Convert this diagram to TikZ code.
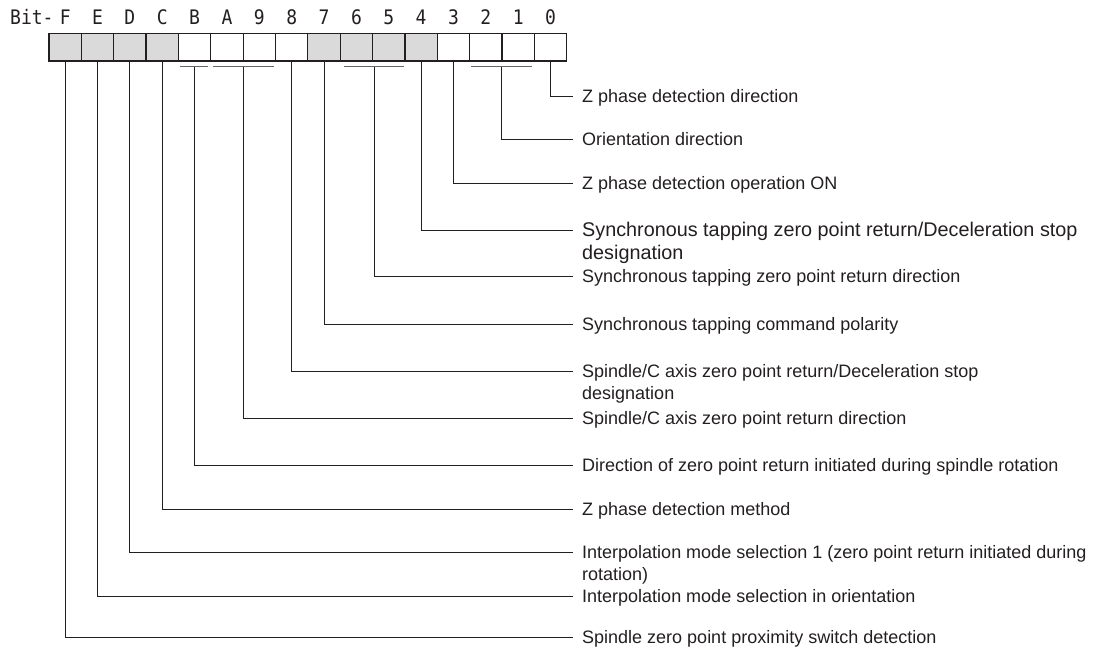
\documentclass[tikz,border=0pt]{standalone}
\usepackage{fontspec}
\setmainfont{Liberation Sans}
\newfontfamily\bitfont[FakeStretch=0.9]{DejaVu Sans Mono}
\usetikzlibrary{positioning}
\definecolor{cellgray}{RGB}{218,218,218}
\definecolor{ink}{RGB}{35,31,32}

\begin{document}
\begin{tikzpicture}[
  x=1pt, y=-1pt,
  cell/.style={draw=ink, line width=1.2pt, minimum width=32.36pt, minimum height=27.7pt, inner sep=0pt, outer sep=0pt},
  hexlbl/.style={font=\bitfont\fontsize{20}{20}\selectfont, inner sep=0pt, text=ink},
  desc/.style={font=\fontsize{18}{22.5}\selectfont, align=left, anchor=base west, inner sep=0pt, text=ink},
  bigdesc/.style={desc, font=\fontsize{19.8}{23}\selectfont},
  lead/.style={line width=0.9pt, draw=ink},
  bar/.style={line width=1.1pt, draw=black!60}
]
  \useasboundingbox (0,0) rectangle (1095,649);
  \node[hexlbl, anchor=west] (bit) at (10,17) {Bit-};
  \foreach \h/\f [count=\i from 0] in {F/cellgray, E/cellgray, D/cellgray, C/cellgray, B/white, A/white, 9/white, 8/white,
                                       7/cellgray, 6/cellgray, 5/cellgray, 4/cellgray, 3/white, 2/white, 1/white, 0/white} {
    \node[cell, fill=\f] (c\h) at (65.18+32.36*\i, 47.15) {};
    \node[hexlbl] (h\h) at (c\h |- 0,17) {\h};
  }

  \draw[bar] ([xshift=1.5pt, yshift=-5.7pt]cB.south west) -- coordinate (gB) ([xshift=-2.5pt, yshift=-5.7pt]cB.south east);
  \draw[bar] ([xshift=2pt, yshift=-5.7pt]cA.south west) -- coordinate (gA9) ([xshift=-2pt, yshift=-5.7pt]c9.south east);
  \draw[bar] ([xshift=4pt, yshift=-5.7pt]c6.south west) -- coordinate (g65) ([xshift=-0.5pt, yshift=-5.7pt]c5.south east);
  \draw[bar] ([xshift=1.5pt, yshift=-5.7pt]c2.south west) -- coordinate (g21) ([xshift=-2pt, yshift=-5.7pt]c1.south east);

  \foreach \src/\k/\y/\dy/\st/\t in {
      c0/0/96.5/6.3/desc/{Z phase detection direction},
      g21/1/139/6.3/desc/{Orientation direction},
      c3/3/183/6.3/desc/{Z phase detection operation ON},
      c4/4/230/29.8/bigdesc/{Synchronous tapping zero point return/Deceleration stop\\designation},
      g65/5/276/6.3/desc/{Synchronous tapping zero point return direction},
      c7/7/324/6.3/desc/{Synchronous tapping command polarity},
      c8/8/371/28.5/desc/{Spindle/C axis zero point return/Deceleration stop\\designation},
      gA9/9/418/6.3/desc/{Spindle/C axis zero point return direction},
      gB/B/465/6.3/desc/{Direction of zero point return initiated during spindle rotation},
      cC/C/509/6.3/desc/{Z phase detection method},
      cD/D/552/28.5/desc/{Interpolation mode selection 1 (zero point return initiated during\\rotation)},
      cE/E/596/6.3/desc/{Interpolation mode selection in orientation},
      cF/F/637/6.3/desc/{Spindle zero point proximity switch detection}} {
    \coordinate (e\k) at (573,\y);
    \draw[lead] (\src) |- (e\k);
    \path (e\k) ++(9,\dy) node[\st] (l\k) {\t};
  }
\end{tikzpicture}
\end{document}
